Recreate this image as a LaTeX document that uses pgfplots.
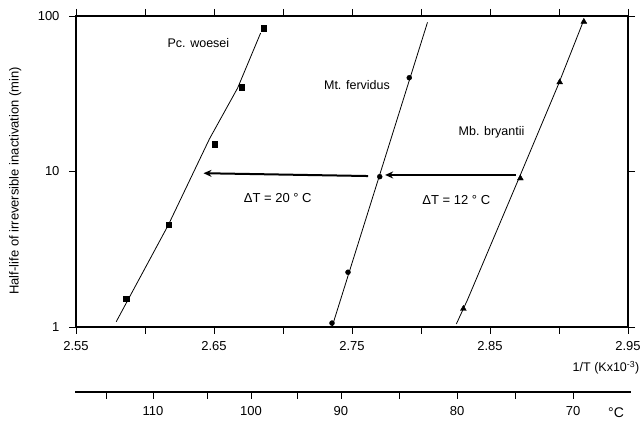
\documentclass[border=0pt]{standalone}
\usepackage{fontspec}
\setmainfont{Liberation Sans}
\usepackage{pgfplots}
\pgfplotsset{compat=1.18}
\usetikzlibrary{arrows.meta}

\begin{document}
\begin{tikzpicture}[x=1pt,y=1pt]
\path[use as bounding box] (0,0) rectangle (644,422);

% main Arrhenius-type plot
\begin{axis}[
    at={(76pt,95pt)}, anchor=south west,
    scale only axis, width=552pt, height=311pt,
    xmin=2.55, xmax=2.95,
    ymode=log, ymin=1, ymax=100,
    xtick={2.55,2.65,2.75,2.85,2.95},
    xticklabels={2.55,2.65,2.75,2.85,2.95},
    minor xtick={2.60,2.70,2.80,2.90},
    ytick={1,10,100}, yticklabels={1,10,100},
    minor y tick style={draw=none},
    tick align=outside,
    major tick length=7pt, minor tick length=7pt,
    axis line style={line width=1.1pt},
    tick style={line width=0.9pt, black},
    /pgf/number format/assume math mode=true,
    ticklabel style={font=\fontsize{13}{15}\selectfont},
    xticklabel style={yshift=-4pt},
    yticklabel style={xshift=-6pt},
    ylabel={Half-life of irreversible inactivation (min)},
    ylabel style={at={(axis description cs:-0.11,0.47)}, anchor=center,
        font=\fontsize{13}{15}\selectfont},
    xlabel={1/T (Kx10\textsuperscript{-3})},
    xlabel style={at={(axis description cs:1.027,-0.13)}, anchor=east,
        font=\fontsize{12.5}{14}\selectfont},
    clip=false,
]

% Pc. woesei
\addplot[black, line width=0.8pt] coordinates {
    (2.5791,1.08) (2.6169,4.53) (2.6467,16.2) (2.6671,34.4) (2.6838,77.8)
};
\addplot[only marks, mark=square*, mark size=2.6pt, black] coordinates {
    (2.5864,1.52) (2.6171,4.55) (2.6506,15.0) (2.6698,34.8) (2.6860,83.4)
};

% Mt. fervidus
\addplot[black, line width=0.8pt] coordinates {
    (2.7355,1.0) (2.8047,91)
};
\addplot[only marks, mark=*, mark size=2.5pt, black] coordinates {
    (2.7355,1.06) (2.7471,2.25) (2.7701,9.26) (2.7915,40.1)
};

% Mb. bryantii
\addplot[black, line width=0.8pt] coordinates {
    (2.8256,1.045) (2.8336,1.49) (2.8729,9.93) (2.8991,35.5) (2.9180,94.3)
};
\addplot[only marks, mark=triangle*, mark size=3.4pt, black] coordinates {
    (2.8307,1.31) (2.8720,9.04) (2.9005,37.5) (2.9180,91.9)
};

% temperature shift arrows
\addplot[black, line width=2pt, -{Stealth[length=8pt,width=7pt]}] coordinates {
    (2.8685,9.5) (2.7740,9.5)
};
\addplot[black, line width=2pt, -{Stealth[length=8pt,width=7pt]}] coordinates {
    (2.7616,9.35) (2.6424,9.75)
};

\begin{scope}[every node/.style={font=\fontsize{12.5}{14}\selectfont}]
\node at (axis cs:2.6387,67.0) {Pc. woesei};
\node at (axis cs:2.7536,36.0) {Mt. fervidus};
\node at (axis cs:2.8511,17.9) {Mb. bryantii};
\node[font=\fontsize{13}{15}\selectfont] at (axis cs:2.6962,6.76) {ΔT = 20 ° C};
\node[font=\fontsize{13}{15}\selectfont] at (axis cs:2.8256,6.56) {ΔT = 12 ° C};
\end{scope}
\end{axis}

% Celsius scale
\begin{axis}[
    at={(75pt,30pt)}, anchor=south west,
    scale only axis, width=556pt, height=1pt,
    xmin=2.54927, xmax=2.95364, ymin=0, ymax=1,
    hide y axis,
    axis x line*=bottom,
    x axis line style={-, line width=1.1pt},
    xtick={2.6060,2.6773,2.7427,2.8271,2.9115},
    xticklabels={110,100,90,80,70},
    minor xtick={2.5725,2.6453,2.7107,2.7849,2.8693},
    tick align=outside,
    major tick length=7pt, minor tick length=7pt,
    tick style={line width=0.9pt, black},
    /pgf/number format/assume math mode=true,
    ticklabel style={font=\fontsize{13}{15}\selectfont},
    xticklabel style={yshift=-4pt},
]
\end{axis}
\node[font=\fontsize{14}{16}\selectfont] at (616,9) {°C};
\end{tikzpicture}
\end{document}
